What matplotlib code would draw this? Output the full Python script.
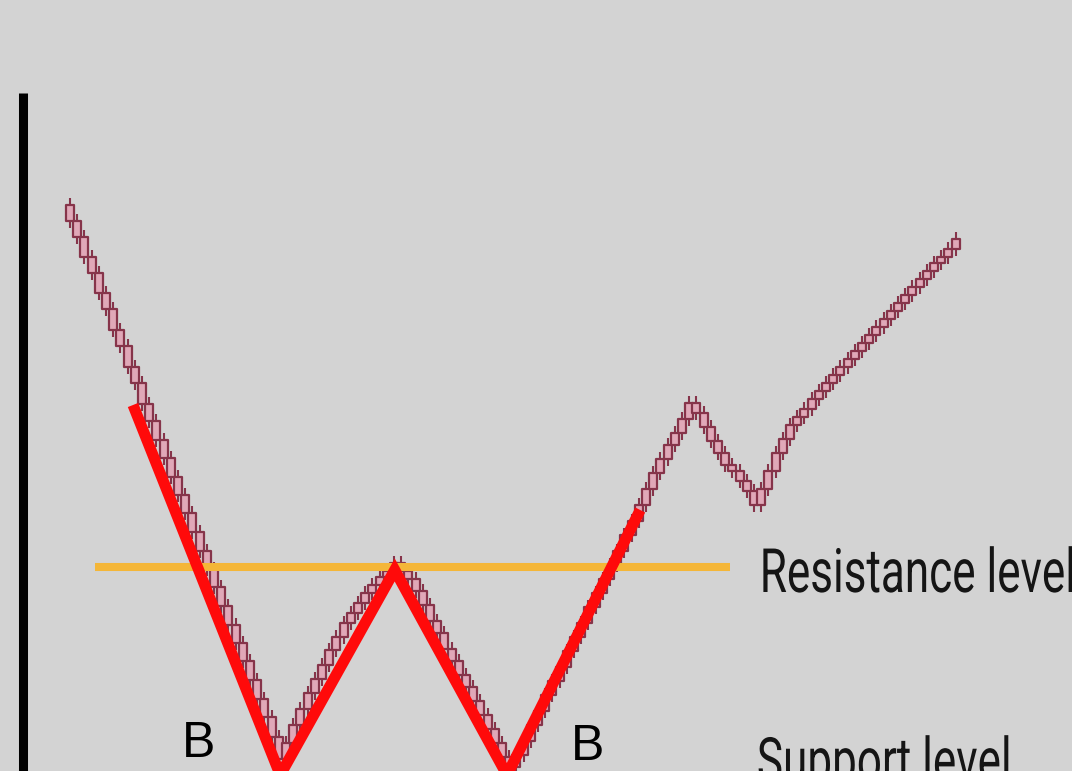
import matplotlib
matplotlib.use("Agg")
import matplotlib.pyplot as plt
from matplotlib.patches import Rectangle
from matplotlib.collections import PatchCollection, LineCollection
from matplotlib.patheffects import AbstractPathEffect
from matplotlib.transforms import Affine2D

# ---------------- data ----------------
first_open = 566
closes = [
    550, 534, 514, 498, 478, 462, 441, 425, 404, 388,
    367, 350, 331, 313, 294, 276, 258, 239, 220, 202,
    184, 165, 146, 128, 110, 91, 72, 54, 34, 12,
    28, 46, 62, 78, 92, 106, 121, 134, 148, 158,
    168, 178, 186, 194, 200, 208,
    200, 192, 180, 166, 150, 138, 122, 110, 96, 84,
    70, 56, 42, 28, 14, 4,
    16, 30, 46, 60, 76, 90, 104, 120, 134, 148,
    164, 178, 192, 206, 220, 236, 250, 266, 282, 298,
    312, 326, 338, 352, 368,
    358, 344, 330, 318, 306, 300, 290, 280, 266,
    282, 300, 318, 332, 346, 354, 362, 372, 380, 388,
    396, 404, 412, 420, 428, 436, 444, 452, 460, 468,
    476, 484, 492, 500, 508, 514, 522, 532,
]
pattern_idx = [8.75, 29.2, 45.1, 60.7, 79.2]
pattern_px = [366, -4, 201, -4, 261]
resistance_price = 204
support_price = -4
level_span = [3.5, 91.7]
b_labels = [("B", 15.6, 14), ("B", 69.5, 11)]
level_labels = [("Resistance level", 95.8, 179), ("Support level", 95.4, -10)]

# ---------------- style ----------------
bg = "#d3d3d3"
edge = "#86344a"
fill = "#e0a8b8"
wick = 7
body_w = 1.1


class Condense(AbstractPathEffect):
    def __init__(self, sx):
        super().__init__()
        self.sx = sx

    def draw_path(self, renderer, gc, tpath, affine, rgbFace=None):
        renderer.draw_path(gc, tpath, Affine2D().scale(self.sx, 1.0) + affine,
                           rgbFace)


fig = plt.figure(figsize=(10.72, 7.71), dpi=100)
fig.patch.set_facecolor(bg)
ax = fig.add_axes([0, 0, 1, 1])
ax.set_facecolor(bg)
step = 7.2
x0 = 70
ax.set_xlim((0 - x0) / step, (1072 - x0) / step)
ax.set_ylim(0, 771)
ax.axis("off")

opens = [first_open] + closes[:-1]
rects = []
segs = []
for i, (o, c) in enumerate(zip(opens, closes)):
    lo, hi = min(o, c), max(o, c)
    rects.append(Rectangle((i - body_w / 2, lo), body_w, hi - lo))
    segs.append([(i, hi), (i, hi + wick)])
    segs.append([(i, lo - wick), (i, lo)])
ax.add_collection(LineCollection(segs, colors=edge, linewidths=1.5, zorder=2))
ax.add_collection(PatchCollection(rects, facecolor=fill, edgecolor=edge,
                                  linewidths=1.6, zorder=3))

# y-axis bar
ax.plot([(23 - x0) / step] * 2, [771 - 93, -10], color="black", lw=6.5,
        solid_capstyle="butt", zorder=5)

# levels
for lvl in (resistance_price, support_price):
    ax.plot(level_span, [lvl, lvl], color="#f4b638", lw=5.8,
            solid_capstyle="butt", zorder=4)

# W pattern
ax.plot(pattern_idx, pattern_px, color="#ff0a0a", lw=8,
        solid_joinstyle="miter", solid_capstyle="butt", zorder=6)

for t, xi, yp in b_labels:
    ax.text(xi, yp, t, fontsize=36, color="black", ha="left", va="baseline",
            family=["Liberation Sans", "DejaVu Sans"], zorder=7)

# condensed labels: measure natural width, then squeeze to the target width
fig.canvas.draw()
renderer = fig.canvas.get_renderer()
probe = ax.text(0, 0, level_labels[0][0], fontsize=44,
                family=["Roboto", "DejaVu Sans"])
natural_w = probe.get_window_extent(renderer).width
probe.remove()
sx = 316.0 / natural_w
for t, xi, yp in level_labels:
    ax.text(xi, yp, t, fontsize=44, color="#151515", ha="left", va="baseline",
            family=["Roboto", "DejaVu Sans"], zorder=7, clip_on=False,
            path_effects=[Condense(sx)])

fig.savefig("out.png", dpi=100, facecolor=bg)
